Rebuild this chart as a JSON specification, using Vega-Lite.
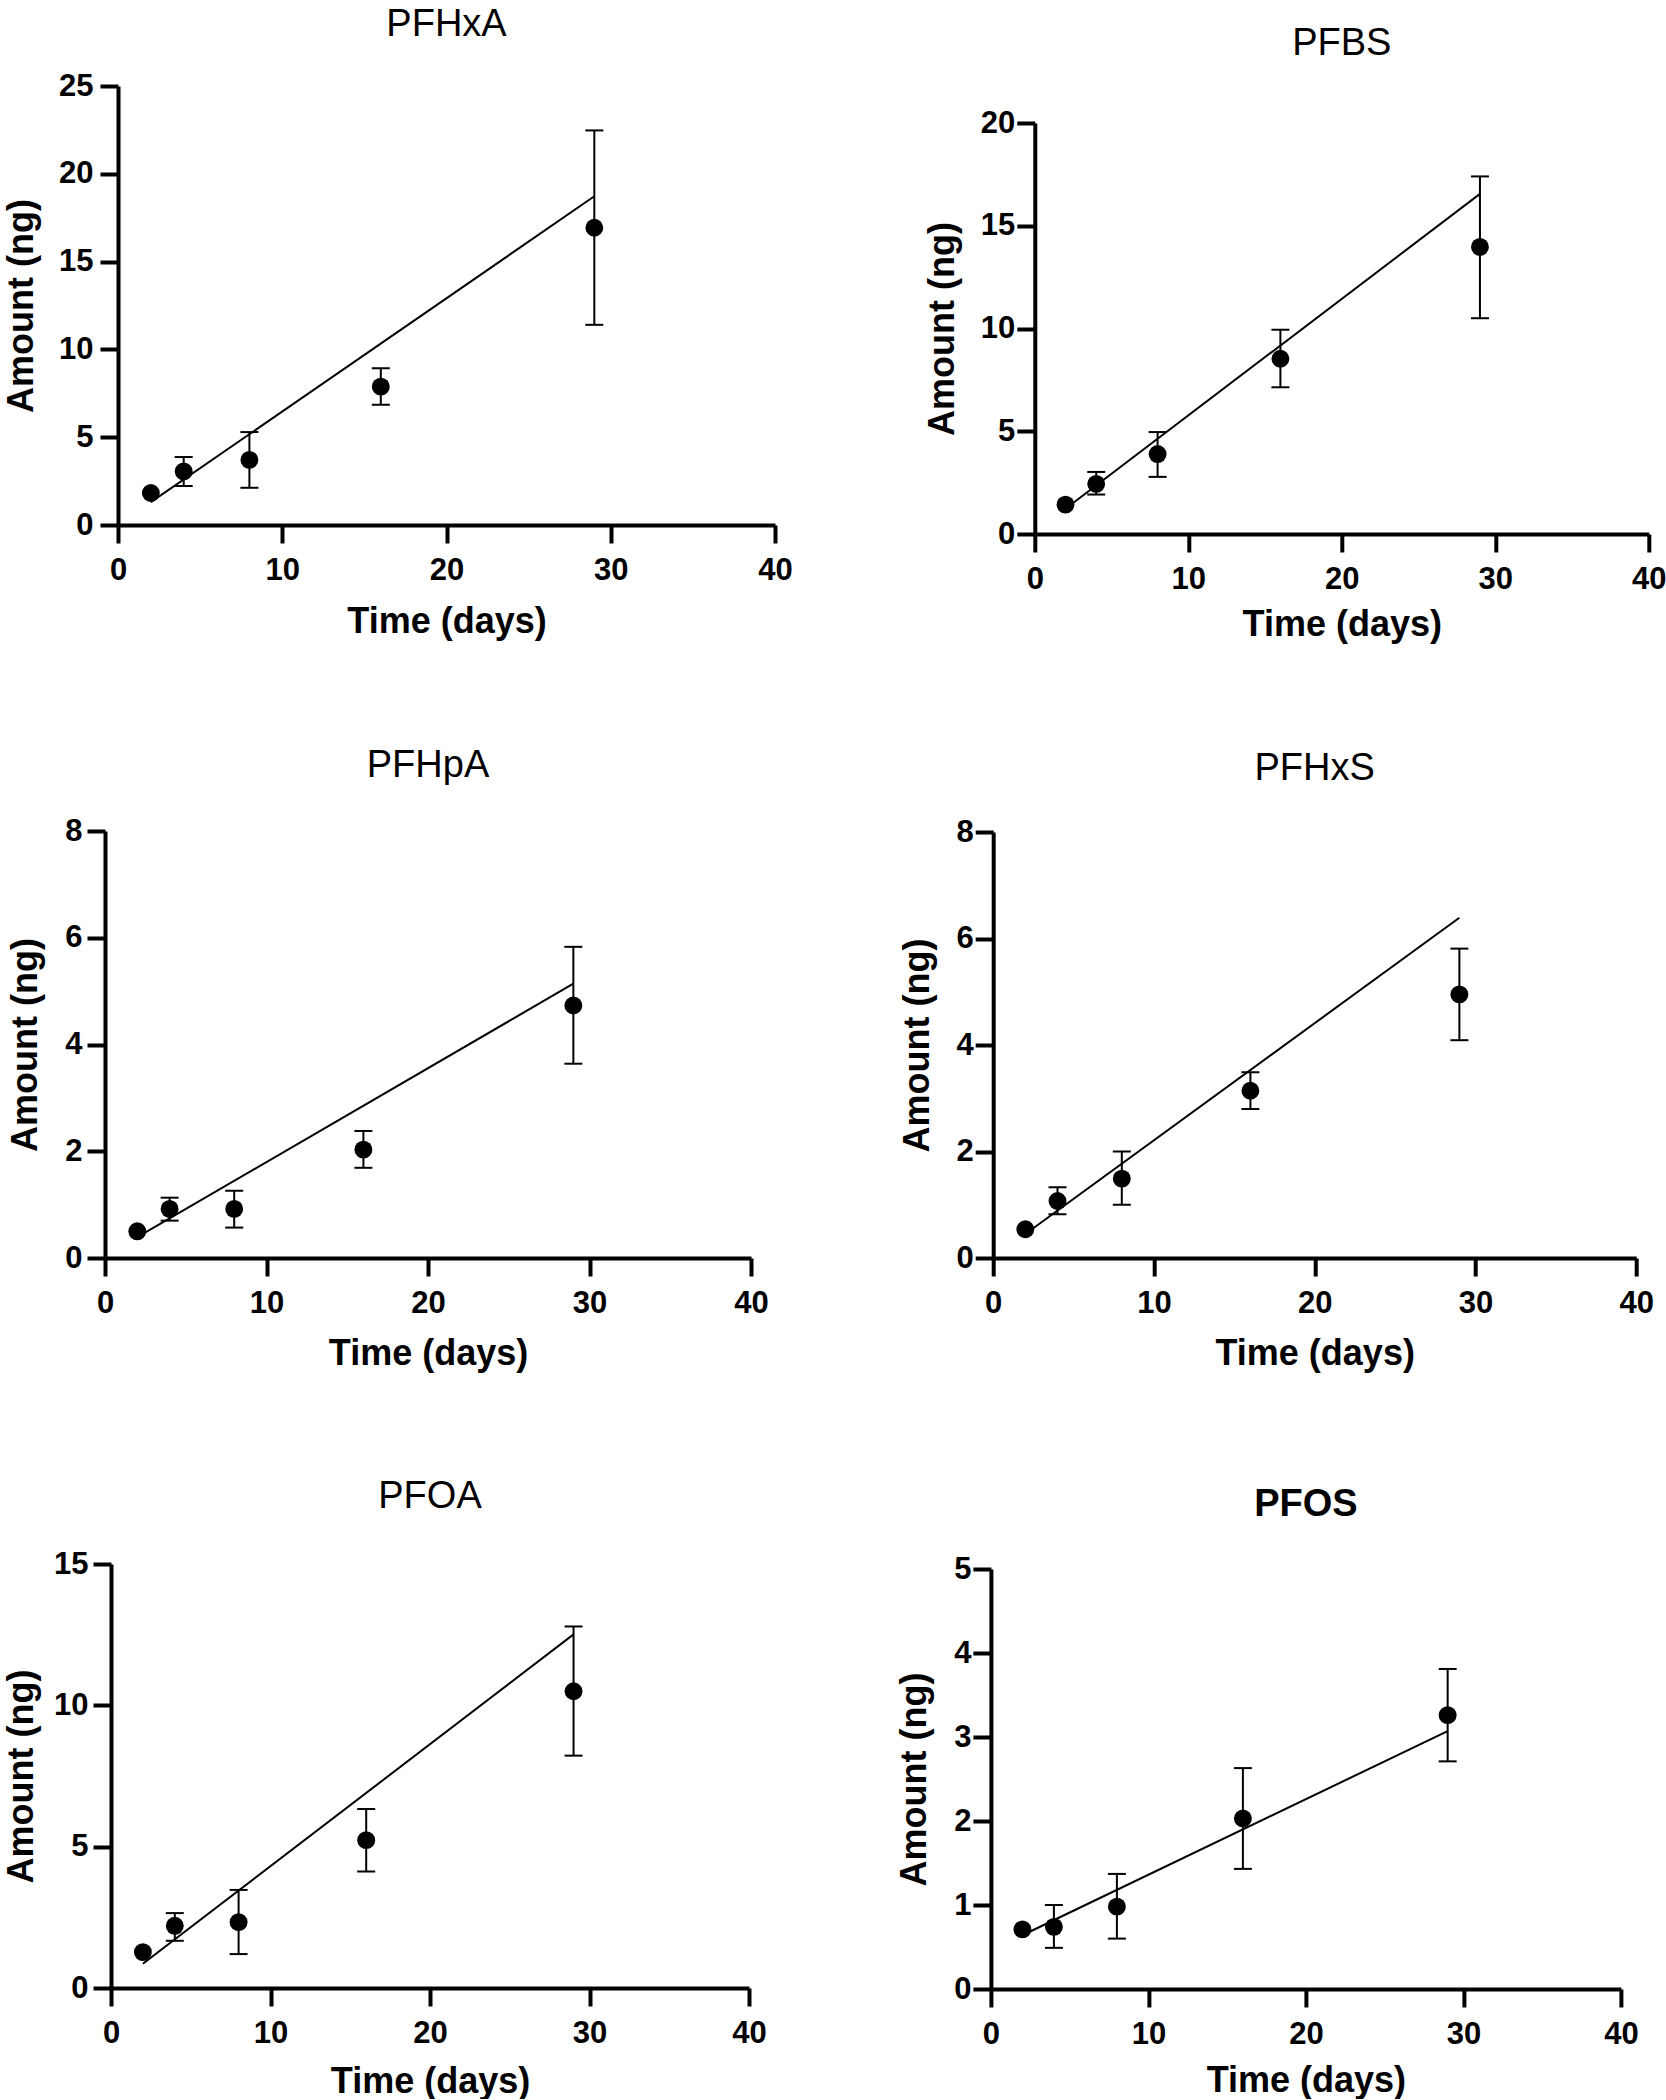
{
  "$schema": "https://vega.github.io/schema/vega-lite/v6.json",
  "padding": {"left": 0, "top": 4, "right": 0, "bottom": 0},
  "background": "white",
  "config": {
    "font": "Liberation Sans",
    "view": {"stroke": null},
    "axis": {
      "domainColor": "black", "domainWidth": 4, "tickColor": "black", "tickWidth": 4, "tickSize": 18,
      "labelFont": "Liberation Sans", "labelFontSize": 31, "labelFontWeight": "bold", "labelColor": "black",
      "titleFont": "Liberation Sans", "titleFontSize": 36, "titleFontWeight": "bold", "titleColor": "black",
      "grid": false, "labelFlush": false, "labelOverlap": false, "labelBound": false
    },
    "axisX": {"labelPadding": 12},
    "title": {"font": "Liberation Sans", "fontSize": 38, "fontWeight": "normal", "color": "black", "frame": "group", "anchor": "middle"}
  },
  "datasets": {
    "PFHxA_pts": [
      {"day": 2, "amount": 1.82, "lo": null, "hi": null},
      {"day": 4, "amount": 3.05, "lo": 2.22, "hi": 3.87},
      {"day": 8, "amount": 3.71, "lo": 2.12, "hi": 5.29},
      {"day": 16, "amount": 7.88, "lo": 6.85, "hi": 8.92},
      {"day": 29, "amount": 16.93, "lo": 11.40, "hi": 22.47}
    ],
    "PFHxA_fit": [{"day": 2, "amount": 1.3}, {"day": 29, "amount": 18.72}],
    "PFBS_pts": [
      {"day": 2, "amount": 1.43, "lo": null, "hi": null},
      {"day": 4, "amount": 2.44, "lo": 1.92, "hi": 3.02},
      {"day": 8, "amount": 3.89, "lo": 2.78, "hi": 4.96},
      {"day": 16, "amount": 8.53, "lo": 7.14, "hi": 9.94},
      {"day": 29, "amount": 13.97, "lo": 10.50, "hi": 17.40}
    ],
    "PFBS_fit": [{"day": 2, "amount": 1.23}, {"day": 29, "amount": 16.55}],
    "PFHpA_pts": [
      {"day": 2, "amount": 0.50, "lo": null, "hi": null},
      {"day": 4, "amount": 0.92, "lo": 0.70, "hi": 1.13},
      {"day": 8, "amount": 0.92, "lo": 0.57, "hi": 1.26},
      {"day": 16, "amount": 2.03, "lo": 1.69, "hi": 2.38},
      {"day": 29, "amount": 4.73, "lo": 3.64, "hi": 5.83}
    ],
    "PFHpA_fit": [{"day": 2, "amount": 0.39}, {"day": 29, "amount": 5.14}],
    "PFHxS_pts": [
      {"day": 2, "amount": 0.54, "lo": null, "hi": null},
      {"day": 4, "amount": 1.07, "lo": 0.82, "hi": 1.33},
      {"day": 8, "amount": 1.49, "lo": 1.00, "hi": 2.00},
      {"day": 16, "amount": 3.14, "lo": 2.80, "hi": 3.49},
      {"day": 29, "amount": 4.95, "lo": 4.09, "hi": 5.81}
    ],
    "PFHxS_fit": [{"day": 2, "amount": 0.45}, {"day": 29, "amount": 6.39}],
    "PFOA_pts": [
      {"day": 2, "amount": 1.27, "lo": null, "hi": null},
      {"day": 4, "amount": 2.20, "lo": 1.67, "hi": 2.65},
      {"day": 8, "amount": 2.33, "lo": 1.20, "hi": 3.47},
      {"day": 16, "amount": 5.23, "lo": 4.12, "hi": 6.33},
      {"day": 29, "amount": 10.50, "lo": 8.22, "hi": 12.79}
    ],
    "PFOA_fit": [{"day": 2, "amount": 0.86}, {"day": 29, "amount": 12.51}],
    "PFOS_pts": [
      {"day": 2, "amount": 0.71, "lo": null, "hi": null},
      {"day": 4, "amount": 0.74, "lo": 0.49, "hi": 1.00},
      {"day": 8, "amount": 0.98, "lo": 0.60, "hi": 1.37},
      {"day": 16, "amount": 2.03, "lo": 1.43, "hi": 2.63},
      {"day": 29, "amount": 3.26, "lo": 2.71, "hi": 3.81}
    ],
    "PFOS_fit": [{"day": 2, "amount": 0.64}, {"day": 29, "amount": 3.07}]
  },
  "spacing": 100,
  "vconcat": [
    {
      "spacing": 130.8,
      "hconcat": [
        {
          "spacing": 0,
          "vconcat": [
            {"width": 1, "height": 1, "data": {"values": []}, "mark": "point", "encoding": {}},
            {
              "spacing": 0,
              "hconcat": [
                {"width": 3, "height": 1, "data": {"values": []}, "mark": "point", "encoding": {}},
                {
                  "width": 657, "height": 439,
                  "title": {"text": "PFHxA", "offset": 26.5},
                  "data": {"name": "PFHxA_pts"},
                  "encoding": {
                    "x": {"field": "day", "type": "quantitative", "scale": {"domain": [0, 40], "nice": false}, "axis": {"values": [0, 10, 20, 30, 40], "title": "Time (days)", "titlePadding": 19}},
                    "y": {"field": "amount", "type": "quantitative", "scale": {"domain": [0, 25], "nice": false}, "axis": {"values": [0, 5, 10, 15, 20, 25], "title": "Amount (ng)", "labelPadding": 7, "titlePadding": 18.5}}
                  },
                  "layer": [
                    {"data": {"name": "PFHxA_fit"}, "mark": {"type": "line", "color": "black", "strokeWidth": 2}},
                    {"mark": {"type": "rule", "color": "black", "strokeWidth": 2}, "encoding": {"y": {"field": "lo", "type": "quantitative", "scale": {"domain": [0, 25], "nice": false}, "title": "Amount (ng)"}, "y2": {"field": "hi"}}},
                    {"mark": {"type": "tick", "orient": "horizontal", "size": 18, "thickness": 2, "color": "black", "opacity": 1}, "encoding": {"y": {"field": "lo", "type": "quantitative", "scale": {"domain": [0, 25], "nice": false}, "title": "Amount (ng)"}}},
                    {"mark": {"type": "tick", "orient": "horizontal", "size": 18, "thickness": 2, "color": "black", "opacity": 1}, "encoding": {"y": {"field": "hi", "type": "quantitative", "scale": {"domain": [0, 25], "nice": false}, "title": "Amount (ng)"}}},
                    {"mark": {"type": "circle", "size": 320, "color": "black", "opacity": 1}}
                  ]
                }
              ]
            }
          ]
        },
        {
          "spacing": 0,
          "vconcat": [
            {"width": 1, "height": 20.2, "data": {"values": []}, "mark": "point", "encoding": {}},
            {
              "spacing": 0,
              "hconcat": [
                {"width": 1, "height": 1, "data": {"values": []}, "mark": "point", "encoding": {}},
                {
                  "width": 614, "height": 411,
                  "title": {"text": "PFBS", "offset": 44},
                  "data": {"name": "PFBS_pts"},
                  "encoding": {
                    "x": {"field": "day", "type": "quantitative", "scale": {"domain": [0, 40], "nice": false}, "axis": {"values": [0, 10, 20, 30, 40], "title": "Time (days)", "titlePadding": 13}},
                    "y": {"field": "amount", "type": "quantitative", "scale": {"domain": [0, 20], "nice": false}, "axis": {"values": [0, 5, 10, 15, 20], "title": "Amount (ng)", "labelPadding": 2, "titlePadding": 18.5}}
                  },
                  "layer": [
                    {"data": {"name": "PFBS_fit"}, "mark": {"type": "line", "color": "black", "strokeWidth": 2}},
                    {"mark": {"type": "rule", "color": "black", "strokeWidth": 2}, "encoding": {"y": {"field": "lo", "type": "quantitative", "scale": {"domain": [0, 20], "nice": false}, "title": "Amount (ng)"}, "y2": {"field": "hi"}}},
                    {"mark": {"type": "tick", "orient": "horizontal", "size": 18, "thickness": 2, "color": "black", "opacity": 1}, "encoding": {"y": {"field": "lo", "type": "quantitative", "scale": {"domain": [0, 20], "nice": false}, "title": "Amount (ng)"}}},
                    {"mark": {"type": "tick", "orient": "horizontal", "size": 18, "thickness": 2, "color": "black", "opacity": 1}, "encoding": {"y": {"field": "hi", "type": "quantitative", "scale": {"domain": [0, 20], "nice": false}, "title": "Amount (ng)"}}},
                    {"mark": {"type": "circle", "size": 320, "color": "black", "opacity": 1}}
                  ]
                }
              ]
            }
          ]
        }
      ]
    },
    {
      "spacing": 129.2,
      "hconcat": [
        {
          "spacing": 0,
          "vconcat": [
            {"width": 1, "height": 3.6, "data": {"values": []}, "mark": "point", "encoding": {}},
            {
              "spacing": 0,
              "hconcat": [
                {"width": 7, "height": 1, "data": {"values": []}, "mark": "point", "encoding": {}},
                {
                  "width": 646, "height": 427,
                  "title": {"text": "PFHpA", "offset": 30.3},
                  "data": {"name": "PFHpA_pts"},
                  "encoding": {
                    "x": {"field": "day", "type": "quantitative", "scale": {"domain": [0, 40], "nice": false}, "axis": {"values": [0, 10, 20, 30, 40], "title": "Time (days)", "titlePadding": 18}},
                    "y": {"field": "amount", "type": "quantitative", "scale": {"domain": [0, 8], "nice": false}, "axis": {"values": [0, 2, 4, 6, 8], "title": "Amount (ng)", "labelPadding": 5, "titlePadding": 20}}
                  },
                  "layer": [
                    {"data": {"name": "PFHpA_fit"}, "mark": {"type": "line", "color": "black", "strokeWidth": 2}},
                    {"mark": {"type": "rule", "color": "black", "strokeWidth": 2}, "encoding": {"y": {"field": "lo", "type": "quantitative", "scale": {"domain": [0, 8], "nice": false}, "title": "Amount (ng)"}, "y2": {"field": "hi"}}},
                    {"mark": {"type": "tick", "orient": "horizontal", "size": 18, "thickness": 2, "color": "black", "opacity": 1}, "encoding": {"y": {"field": "lo", "type": "quantitative", "scale": {"domain": [0, 8], "nice": false}, "title": "Amount (ng)"}}},
                    {"mark": {"type": "tick", "orient": "horizontal", "size": 18, "thickness": 2, "color": "black", "opacity": 1}, "encoding": {"y": {"field": "hi", "type": "quantitative", "scale": {"domain": [0, 8], "nice": false}, "title": "Amount (ng)"}}},
                    {"mark": {"type": "circle", "size": 320, "color": "black", "opacity": 1}}
                  ]
                }
              ]
            }
          ]
        },
        {
          "spacing": 0,
          "vconcat": [
            {"width": 1, "height": 6.6, "data": {"values": []}, "mark": "point", "encoding": {}},
            {
              "spacing": 0,
              "hconcat": [
                {"width": 1, "height": 1, "data": {"values": []}, "mark": "point", "encoding": {}},
                {
                  "width": 643, "height": 426,
                  "title": {"text": "PFHxS", "offset": 28.3},
                  "data": {"name": "PFHxS_pts"},
                  "encoding": {
                    "x": {"field": "day", "type": "quantitative", "scale": {"domain": [0, 40], "nice": false}, "axis": {"values": [0, 10, 20, 30, 40], "title": "Time (days)", "titlePadding": 18}},
                    "y": {"field": "amount", "type": "quantitative", "scale": {"domain": [0, 8], "nice": false}, "axis": {"values": [0, 2, 4, 6, 8], "title": "Amount (ng)", "labelPadding": 2, "titlePadding": 19}}
                  },
                  "layer": [
                    {"data": {"name": "PFHxS_fit"}, "mark": {"type": "line", "color": "black", "strokeWidth": 2}},
                    {"mark": {"type": "rule", "color": "black", "strokeWidth": 2}, "encoding": {"y": {"field": "lo", "type": "quantitative", "scale": {"domain": [0, 8], "nice": false}, "title": "Amount (ng)"}, "y2": {"field": "hi"}}},
                    {"mark": {"type": "tick", "orient": "horizontal", "size": 18, "thickness": 2, "color": "black", "opacity": 1}, "encoding": {"y": {"field": "lo", "type": "quantitative", "scale": {"domain": [0, 8], "nice": false}, "title": "Amount (ng)"}}},
                    {"mark": {"type": "tick", "orient": "horizontal", "size": 18, "thickness": 2, "color": "black", "opacity": 1}, "encoding": {"y": {"field": "hi", "type": "quantitative", "scale": {"domain": [0, 8], "nice": false}, "title": "Amount (ng)"}}},
                    {"mark": {"type": "circle", "size": 320, "color": "black", "opacity": 1}}
                  ]
                }
              ]
            }
          ]
        }
      ]
    },
    {
      "spacing": 127.9,
      "hconcat": [
        {
          "spacing": 0,
          "vconcat": [
            {"width": 1, "height": 5.2, "data": {"values": []}, "mark": "point", "encoding": {}},
            {
              "spacing": 0,
              "hconcat": [
                {"width": 3, "height": 1, "data": {"values": []}, "mark": "point", "encoding": {}},
                {
                  "width": 638, "height": 424,
                  "title": {"text": "PFOA", "offset": 32.3},
                  "data": {"name": "PFOA_pts"},
                  "encoding": {
                    "x": {"field": "day", "type": "quantitative", "scale": {"domain": [0, 40], "nice": false}, "axis": {"values": [0, 10, 20, 30, 40], "title": "Time (days)", "titlePadding": 16}},
                    "y": {"field": "amount", "type": "quantitative", "scale": {"domain": [0, 15], "nice": false}, "axis": {"values": [0, 5, 10, 15], "title": "Amount (ng)", "labelPadding": 5, "titlePadding": 13}}
                  },
                  "layer": [
                    {"data": {"name": "PFOA_fit"}, "mark": {"type": "line", "color": "black", "strokeWidth": 2}},
                    {"mark": {"type": "rule", "color": "black", "strokeWidth": 2}, "encoding": {"y": {"field": "lo", "type": "quantitative", "scale": {"domain": [0, 15], "nice": false}, "title": "Amount (ng)"}, "y2": {"field": "hi"}}},
                    {"mark": {"type": "tick", "orient": "horizontal", "size": 18, "thickness": 2, "color": "black", "opacity": 1}, "encoding": {"y": {"field": "lo", "type": "quantitative", "scale": {"domain": [0, 15], "nice": false}, "title": "Amount (ng)"}}},
                    {"mark": {"type": "tick", "orient": "horizontal", "size": 18, "thickness": 2, "color": "black", "opacity": 1}, "encoding": {"y": {"field": "hi", "type": "quantitative", "scale": {"domain": [0, 15], "nice": false}, "title": "Amount (ng)"}}},
                    {"mark": {"type": "circle", "size": 320, "color": "black", "opacity": 1}}
                  ]
                }
              ]
            }
          ]
        },
        {
          "spacing": 0,
          "vconcat": [
            {"width": 1, "height": 14.4, "data": {"values": []}, "mark": "point", "encoding": {}},
            {
              "spacing": 0,
              "hconcat": [
                {"width": 1, "height": 1, "data": {"values": []}, "mark": "point", "encoding": {}},
                {
                  "width": 630, "height": 420,
                  "title": {"text": "PFOS", "offset": 28.8, "fontWeight": "bold"},
                  "data": {"name": "PFOS_pts"},
                  "encoding": {
                    "x": {"field": "day", "type": "quantitative", "scale": {"domain": [0, 40], "nice": false}, "axis": {"values": [0, 10, 20, 30, 40], "title": "Time (days)", "titlePadding": 14}},
                    "y": {"field": "amount", "type": "quantitative", "scale": {"domain": [0, 5], "nice": false}, "axis": {"values": [0, 1, 2, 3, 4, 5], "title": "Amount (ng)", "labelPadding": 2, "titlePadding": 20}}
                  },
                  "layer": [
                    {"data": {"name": "PFOS_fit"}, "mark": {"type": "line", "color": "black", "strokeWidth": 2}},
                    {"mark": {"type": "rule", "color": "black", "strokeWidth": 2}, "encoding": {"y": {"field": "lo", "type": "quantitative", "scale": {"domain": [0, 5], "nice": false}, "title": "Amount (ng)"}, "y2": {"field": "hi"}}},
                    {"mark": {"type": "tick", "orient": "horizontal", "size": 18, "thickness": 2, "color": "black", "opacity": 1}, "encoding": {"y": {"field": "lo", "type": "quantitative", "scale": {"domain": [0, 5], "nice": false}, "title": "Amount (ng)"}}},
                    {"mark": {"type": "tick", "orient": "horizontal", "size": 18, "thickness": 2, "color": "black", "opacity": 1}, "encoding": {"y": {"field": "hi", "type": "quantitative", "scale": {"domain": [0, 5], "nice": false}, "title": "Amount (ng)"}}},
                    {"mark": {"type": "circle", "size": 320, "color": "black", "opacity": 1}}
                  ]
                }
              ]
            }
          ]
        }
      ]
    }
  ]
}
